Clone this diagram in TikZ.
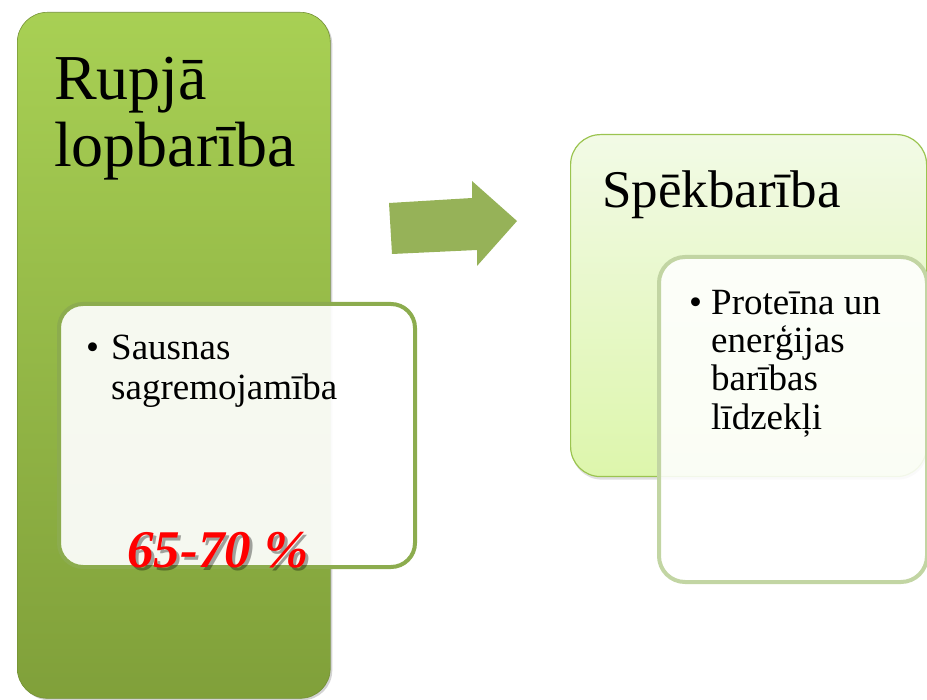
\documentclass[tikz,border=0pt]{standalone}
\usepackage{fontspec}
\setmainfont{Liberation Serif}
\usetikzlibrary{shadows}
\definecolor{leftTop}{RGB}{168,208,84}
\definecolor{leftBot}{RGB}{128,160,58}
\definecolor{leftInnerBorder}{RGB}{140,172,78}
\definecolor{arrowGreen}{RGB}{150,178,88}
\definecolor{rightTop}{RGB}{242,250,230}
\definecolor{rightBot}{RGB}{221,246,172}
\definecolor{rightBorder}{RGB}{155,196,80}
\definecolor{rightInnerBorder}{RGB}{194,213,163}
\definecolor{redText}{RGB}{255,0,0}
\tikzset{
  bigleft/.style={rectangle, rounded corners=30pt, anchor=north west, inner sep=0pt,
    top color=leftTop, bottom color=leftBot, draw=leftBot!90!black, line width=0.6pt,
    drop shadow={shadow xshift=2pt, shadow yshift=-2pt, opacity=0.35}},
  innerleft/.style={rectangle, rounded corners=24pt, anchor=north west, inner sep=0pt,
    draw=leftInnerBorder, line width=4pt, fill=white, fill opacity=0.92, draw opacity=1},
  bigright/.style={rectangle, rounded corners=30pt, anchor=north west, inner sep=0pt,
    top color=rightTop, bottom color=rightBot, draw=rightBorder, line width=1.2pt,
    drop shadow={shadow xshift=1pt, shadow yshift=-3pt, opacity=0.25}},
  innerright/.style={rectangle, rounded corners=26pt, anchor=north west, inner sep=0pt,
    draw=rightInnerBorder, line width=4pt, fill=white, fill opacity=0.88, draw opacity=1},
  titletext/.style={anchor=base west, inner sep=0pt, font=\fontsize{64}{64}\selectfont},
  subtitle/.style={anchor=base west, inner sep=0pt, font=\fontsize{53}{53}\selectfont},
  bodytext/.style={anchor=base west, inner sep=0pt, font=\fontsize{37}{38}\selectfont},
  pctext/.style={anchor=base, inner sep=0pt, font=\fontsize{53}{53}\selectfont\bfseries\itshape},
}
\begin{document}
\begin{tikzpicture}[x=1pt,y=-1pt]
\useasboundingbox (0,0) rectangle (927,700);
% left column
\node[bigleft, minimum width=313pt, minimum height=686pt] (lbox) at (17,12) {};
\node[titletext] (t1) at (54,100) {Rupjā};
\node[titletext] (t2) at (54,167) {lopbarība};
\node[innerleft, minimum width=356pt, minimum height=263pt] (libox) at (57,302) {};
\node[bodytext] (lb) at (86,360) {•};
\node[bodytext] (l1) at (111,360) {Sausnas};
\node[bodytext] (l2) at (111,400) {sagremojamība};
\node[pctext, text=black, opacity=0.35] (pcs) at (221,570) {65-70 \%};
\node[pctext, text=redText] (pc) at (218,567) {65-70 \%};
% arrow
\fill[arrowGreen] (389,203) -- (472,198) -- (472,181) -- (517,221) -- (477,266) -- (477,250) -- (392,254) -- cycle;
% right column
\node[bigright, minimum width=356pt, minimum height=342pt] (rbox) at (570,134) {};
\node[subtitle] (s1) at (602,208) {Spēkbarība};
\node[innerright, minimum width=268pt, minimum height=325pt] (ribox) at (657,255) {};
\node[bodytext] (rb) at (689,315) {•};
\node[bodytext] (r1) at (711,315) {Proteīna un};
\node[bodytext] (r2) at (711,353) {enerģijas};
\node[bodytext] (r3) at (711,391) {barības};
\node[bodytext] (r4) at (711,430) {līdzekļi};
\end{tikzpicture}
\end{document}
